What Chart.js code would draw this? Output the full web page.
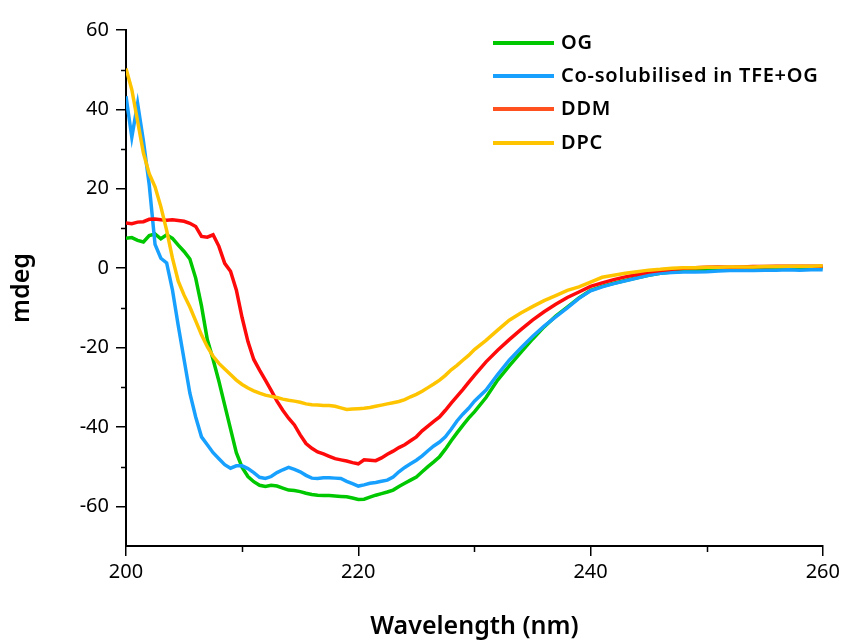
<!DOCTYPE html>
<html>
<head>
<meta charset="utf-8">
<script src="https://cdn.jsdelivr.net/npm/chart.js@4"></script>
<style>
  html, body { margin: 0; padding: 0; background: #fff; }
  #wrap { position: relative; width: 844px; height: 642px; }
  #legend { position: absolute; left: 0; top: 0; width: 844px; height: 200px; font-family: "Noto Sans", sans-serif; font-size: 20px; font-weight: 600; letter-spacing: 0.75px; color: #000; }
  .sw { position: absolute; width: 61px; height: 4px; }
  .lb { position: absolute; line-height: 24px; white-space: nowrap; }
</style>
</head>
<body>
<div id="wrap">
  <canvas id="c" width="844" height="642"></canvas>
  <div id="legend"></div>
</div>
<script>
// ---------- data ----------
const wavelength = [
  200,200.5,201,201.5,202,202.5,203,203.5,204,204.5,205,205.5,206,206.5,207,207.5,208,208.5,209,209.5,
  210,210.5,211,211.5,212,212.5,213,213.5,214,214.5,215,215.5,216,216.5,217,217.5,218,218.5,219,219.5,
  220,220.5,221,221.5,222,222.5,223,223.5,224,224.5,225,225.5,226,226.5,227,227.5,228,228.5,229,229.5,
  230,231,232,233,234,235,236,237,238,239,240,241,242,243,244,245,246,247,248,249,250,251,252,253,254,255,256,257,258,259,260
];
const ogValues = [
  7.5,7.7,7.0,6.6,8.2,8.6,7.4,8.4,7.5,5.8,4.2,2.3,-2.5,-9.5,-18,-23,-28.5,-34.5,-40.5,-46.5,
  -50.2,-52.5,-53.8,-54.7,-55,-54.7,-54.9,-55.4,-55.9,-56,-56.3,-56.7,-57,-57.2,-57.3,-57.3,-57.4,-57.5,-57.6,-57.9,
  -58.3,-58.2,-57.7,-57.2,-56.8,-56.4,-55.9,-55,-54.2,-53.4,-52.6,-51.3,-50,-48.8,-47.5,-45.6,-43.5,-41.5,-39.6,-37.8,
  -36.2,-32.6,-28.2,-24.6,-21.2,-17.9,-14.8,-12.1,-9.8,-7.5,-5.6,-4.6,-3.8,-3.1,-2.4,-1.8,-1.3,-1.0,-0.8,-0.6,-0.5,-0.3,-0.2,0,0,0.1,0,0.1,0,0.1,0.1
];
const tfeOgValues = [
  43.3,33,41.5,32,21,6,2.5,1.3,-5.5,-14.5,-23,-31.5,-37.5,-42.5,-44.5,-46.5,-48,-49.5,-50.4,-49.8,
  -49.8,-50.5,-51.5,-52.7,-53,-52.5,-51.5,-50.8,-50.2,-50.7,-51.3,-52.2,-52.9,-53,-52.8,-52.8,-52.9,-53,-53.7,-54.3,
  -54.9,-54.6,-54.2,-54,-53.7,-53.4,-52.6,-51.3,-50.2,-49.3,-48.4,-47.3,-46,-44.8,-43.8,-42.5,-40.6,-38.5,-36.8,-35.3,
  -33.5,-30.7,-26.8,-23.2,-20.1,-17.2,-14.6,-12.3,-10,-7.6,-5.7,-4.7,-3.9,-3.2,-2.5,-1.8,-1.3,-1.1,-1,-1,-0.9,-0.7,-0.6,-0.5,-0.6,-0.5,-0.5,-0.4,-0.5,-0.4,-0.4
];
const ddmValues = [
  11.4,11.2,11.6,11.7,12.3,12.4,12.2,12.1,12.2,12,11.8,11.3,10.5,8,7.8,8.4,5.5,1.2,-0.8,-5.5,
  -12.5,-18.5,-23,-25.7,-28.2,-30.8,-33.5,-35.8,-37.8,-39.5,-42,-44.2,-45.4,-46.3,-46.8,-47.4,-48,-48.3,-48.6,-49,
  -49.3,-48.3,-48.4,-48.5,-47.8,-46.9,-46.1,-45.2,-44.5,-43.5,-42.5,-41,-39.8,-38.6,-37.5,-35.8,-34,-32.3,-30.6,-28.8,
  -27,-23.6,-20.7,-18,-15.5,-13.1,-11,-9.1,-7.4,-6,-4.6,-3.7,-2.9,-2.2,-1.6,-1.0,-0.6,-0.3,0,0.1,0.2,0.3,0.2,0.3,0.4,0.4,0.5,0.5,0.5,0.5,0.5
];
const dpcValues = [
  50.3,45,37,29,23.8,20.5,15.5,9.5,2.5,-3.3,-6.8,-9.8,-13.3,-16.8,-19.8,-22.2,-24.0,-25.4,-26.8,-28.2,
  -29.3,-30.2,-30.9,-31.5,-32,-32.3,-32.6,-33,-33.3,-33.5,-33.8,-34.2,-34.4,-34.5,-34.6,-34.6,-34.8,-35.2,-35.6,-35.5,
  -35.4,-35.3,-35.1,-34.8,-34.5,-34.2,-33.9,-33.6,-33.1,-32.4,-31.8,-31,-30.1,-29.2,-28.2,-27,-25.6,-24.5,-23.2,-22,
  -20.5,-18.2,-15.6,-13.1,-11.3,-9.7,-8.2,-6.9,-5.6,-4.7,-3.5,-2.3,-1.8,-1.3,-0.9,-0.5,-0.3,0,0.1,0.1,0.2,0.2,0.3,0.3,0.3,0.4,0.4,0.5,0.5,0.5,0.6
];
const seriesNames = ["OG", "Co-solubilised in TFE+OG", "DDM", "DPC"];
const xTicks = [200, 220, 240, 260];
const xMinorTicks = [210, 230, 250];
const yTicks = [-60, -40, -20, 0, 20, 40, 60];
const yMinorTicks = [-50, -30, -10, 10, 30, 50];
const xTitle = "Wavelength (nm)";
const yTitle = "mdeg";

// ---------- styles ----------
const lineColors = ["#00c800", "#18a0ff", "#ff0a0a", "#ffc400"];
const swatchColors = ["#00c800", "#18a0ff", "#ff5020", "#ffc400"];
const drawOrder = [3, 2, 1, 0]; // lower = on top
const FONT = "'Noto Sans', sans-serif";

const allValues = [ogValues, tfeOgValues, ddmValues, dpcValues];
const datasets = allValues.map((vals, i) => ({
  label: seriesNames[i],
  data: wavelength.map((w, j) => ({ x: w, y: vals[j] })),
  borderColor: lineColors[i],
  backgroundColor: lineColors[i],
  borderWidth: 3.5,
  pointRadius: 0,
  tension: 0,
  order: drawOrder[i]
}));

const minorTicks = {
  id: 'minorTicks',
  afterDatasetsDraw(chart) {
    const ctx = chart.ctx, xs = chart.scales.x, ys = chart.scales.y;
    ctx.save();
    ctx.strokeStyle = '#000';
    ctx.lineWidth = 1.5;
    ctx.beginPath();
    yMinorTicks.forEach(v => {
      const p = Math.round(ys.getPixelForValue(v)) + 0.5;
      ctx.moveTo(xs.left - 5, p); ctx.lineTo(xs.left, p);
    });
    xMinorTicks.forEach(v => {
      const p = Math.round(xs.getPixelForValue(v)) + 0.5;
      ctx.moveTo(p, ys.bottom); ctx.lineTo(p, ys.bottom + 6);
    });
    ctx.stroke();
    ctx.restore();
  }
};

new Chart(document.getElementById('c'), {
  type: 'line',
  data: { datasets },
  plugins: [minorTicks],
  options: {
    responsive: false,
    animation: false,
    events: [],
    layout: { padding: { top: 30, right: 21, left: 0, bottom: 0 } },
    plugins: { legend: { display: false }, tooltip: { enabled: false } },
    scales: {
      x: {
        type: 'linear', min: 200, max: 260,
        afterBuildTicks: s => { s.ticks = xTicks.map(v => ({ value: v })); },
        afterFit: s => { s.height = 96; },
        grid: { drawOnChartArea: false, drawTicks: true, tickLength: 10, color: '#000', lineWidth: 1.5 },
        border: { color: '#000', width: 2 },
        ticks: { color: '#000', font: { family: FONT, size: 20 }, padding: 4, maxRotation: 0 },
        title: { display: true, text: xTitle, color: '#000', font: { family: FONT, size: 25, weight: '600' }, padding: { top: 0, bottom: 0 } }
      },
      y: {
        type: 'linear', min: -70, max: 60,
        afterBuildTicks: s => { s.ticks = yTicks.map(v => ({ value: v })); },
        afterFit: s => { s.width = 126; },
        grid: { drawOnChartArea: false, drawTicks: true, tickLength: 10, color: '#000', lineWidth: 1.5 },
        border: { color: '#000', width: 2 },
        ticks: { color: '#000', font: { family: FONT, size: 20 }, padding: 7 },
        title: { display: true, text: yTitle, color: '#000', font: { family: FONT, size: 25, weight: '600' }, padding: { top: 7, bottom: 0 } }
      }
    }
  }
});

// ---------- legend (HTML text) ----------
const legend = document.getElementById('legend');
const rowY = [43, 76, 109, 143];
seriesNames.forEach((name, i) => {
  const sw = document.createElement('div');
  sw.className = 'sw';
  sw.style.left = '493px';
  sw.style.top = (rowY[i] - 2) + 'px';
  sw.style.background = swatchColors[i];
  legend.appendChild(sw);
  const lb = document.createElement('div');
  lb.className = 'lb';
  lb.style.left = '561px';
  lb.style.top = (rowY[i] - 13) + 'px';
  lb.textContent = name;
  legend.appendChild(lb);
});
</script>
</body>
</html>
